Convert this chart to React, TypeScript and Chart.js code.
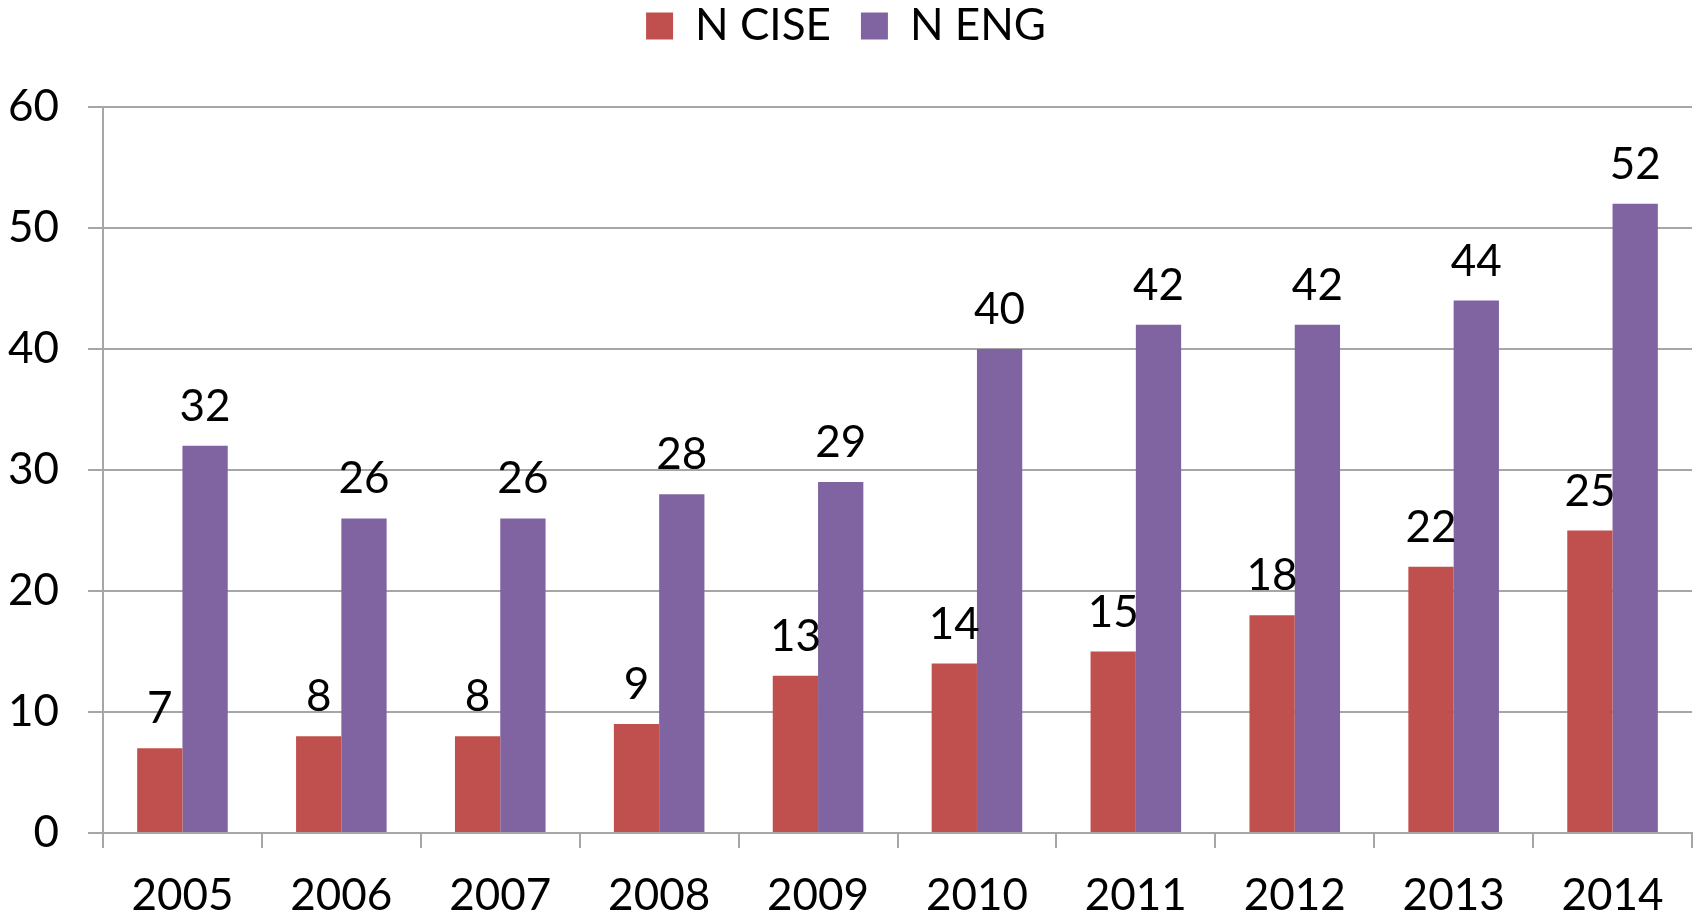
import React, { useEffect, useRef } from "react";
import { Chart, registerables } from "chart.js";

Chart.register(...registerables);

const years = ["2005", "2006", "2007", "2008", "2009", "2010", "2011", "2012", "2013", "2014"];
const nCise = [7, 8, 8, 9, 13, 14, 15, 18, 22, 25];
const nEng = [32, 26, 26, 28, 29, 40, 42, 42, 44, 52];
const yTicks = [0, 10, 20, 30, 40, 50, 60];

const FONT = "Lato, 'Open Sans', sans-serif";
const FS = 44;

const valueLabels = {
  id: "valueLabels",
  afterDatasetsDraw(chart: any) {
    const ctx = chart.ctx;
    ctx.save();
    ctx.font = `${FS}px ${FONT}`;
    ctx.fillStyle = "#000";
    ctx.textAlign = "center";
    ctx.textBaseline = "alphabetic";
    chart.data.datasets.forEach((ds: any, di: number) => {
      const meta = chart.getDatasetMeta(di);
      meta.data.forEach((bar: any, i: number) => {
        ctx.fillText(String(ds.data[i]), bar.x, bar.y - 25);
      });
    });
    ctx.restore();
  },
};

const legendSpace = {
  id: "legendSpace",
  beforeInit(chart: any) {
    const fit = chart.legend.fit;
    chart.legend.fit = function () {
      fit.bind(chart.legend)();
      this.height = 133;
    };
  },
};

export default function App() {
  const ref = useRef<HTMLCanvasElement>(null);
  useEffect(() => {
    document.body.style.margin = "0";
    const chart = new Chart(ref.current!, {
      type: "bar",
      data: {
        labels: years,
        datasets: [
          { label: "N CISE", data: nCise, backgroundColor: "#C0504D", barPercentage: 1, categoryPercentage: 0.57 },
          { label: "N ENG", data: nEng, backgroundColor: "#8064A2", barPercentage: 1, categoryPercentage: 0.57 },
        ],
      },
      options: {
        animation: false,
        responsive: false,
        layout: { padding: { top: -26, right: 2, bottom: 2, left: 0 } },
        plugins: {
          legend: {
            position: "top",
            labels: {
              font: { family: FONT, size: FS },
              color: "#000",
              boxWidth: 27,
              boxHeight: 27,
              padding: 30,
            },
          },
          tooltip: { enabled: false },
        },
        scales: {
          x: {
            afterFit: (scale: any) => {
              scale.height = 80;
            },
            grid: {
              offset: true,
              drawOnChartArea: false,
              tickLength: 15,
              color: "#a6a6a6",
              lineWidth: 2,
            },
            border: { color: "#a6a6a6", width: 2 },
            ticks: { font: { family: FONT, size: FS }, color: "#000", padding: 21 },
          },
          y: {
            min: 0,
            max: 60,
            afterFit: (scale: any) => {
              scale.width = 103;
            },
            afterBuildTicks: (axis: any) => {
              axis.ticks = yTicks.map((v) => ({ value: v }));
            },
            grid: { color: "#a6a6a6", lineWidth: 2, tickLength: 15 },
            border: { color: "#a6a6a6", width: 2 },
            ticks: { font: { family: FONT, size: FS }, color: "#000", padding: 29 },
          },
        },
      },
      plugins: [valueLabels, legendSpace],
    });
    return () => chart.destroy();
  }, []);
  return (
    <div style={{ width: 1694, height: 915, overflow: "hidden", background: "#fff" }}>
      <canvas ref={ref} width={1694} height={915} style={{ display: "block" }} />
    </div>
  );
}
